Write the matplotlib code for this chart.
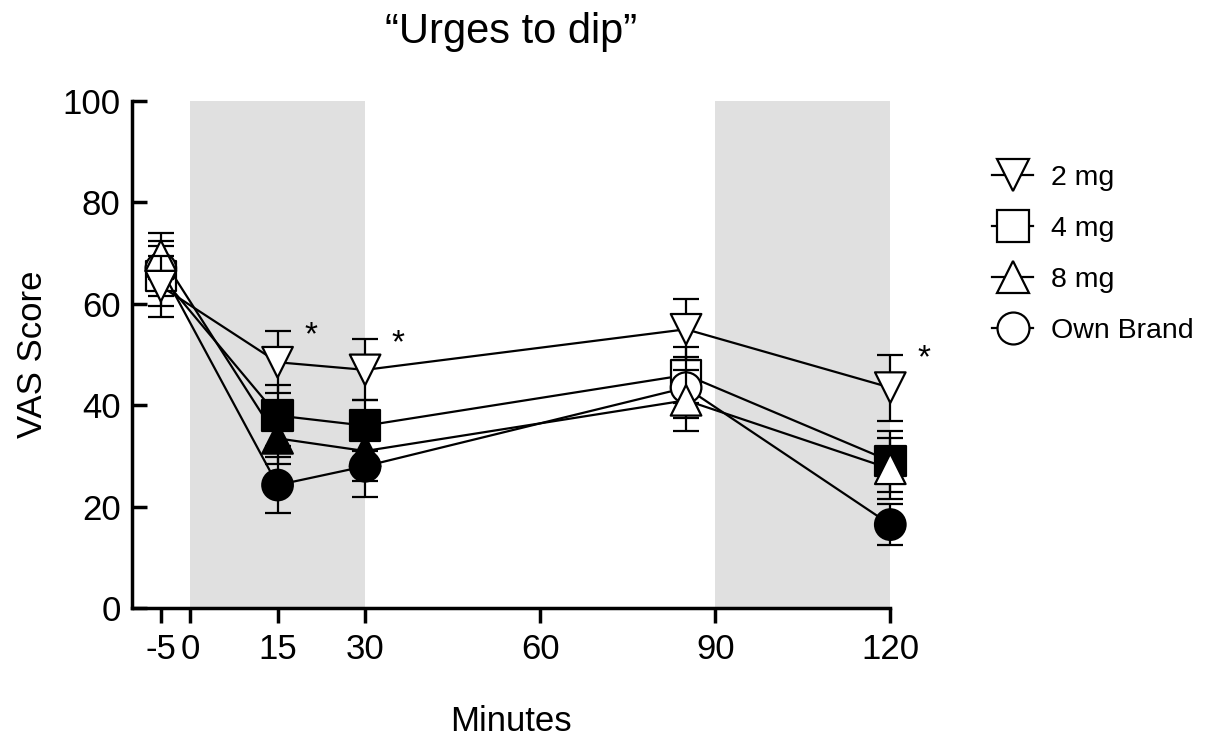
import matplotlib
matplotlib.use("Agg")
import matplotlib.pyplot as plt
from matplotlib.lines import Line2D

plt.rcParams['font.family'] = ['Liberation Sans', 'DejaVu Sans']

minutes = [-5, 15, 30, 85, 120]
tick_positions = [-5, 0, 15, 30, 60, 90, 120]
tick_labels = ['-5', '0', '15', '30', '60', '90', '120']

series_names = ['2 mg', '4 mg', '8 mg', 'Own Brand']
series_markers = ['v', 's', '^', 'o']
series_means = [
    [63.5, 48.5, 47.0, 55.0, 43.5],
    [65.5, 38.0, 36.0, 46.0, 29.0],
    [69.5, 33.5, 31.0, 41.0, 27.5],
    [67.0, 24.3, 28.0, 43.5, 16.5],
]
series_sem = [
    [6.0, 6.1, 6.0, 6.0, 6.5],
    [6.0, 6.0, 5.0, 5.5, 6.0],
    [4.5, 5.0, 6.0, 6.0, 6.0],
    [5.5, 5.5, 6.0, 6.0, 4.0],
]
# filled marker = significant vs baseline
series_filled = [
    [False, False, False, False, False],
    [False, True, True, False, True],
    [False, True, True, False, False],
    [False, True, True, False, True],
]
series_layer = [5, 2, 4, 3]
star_minutes = [15, 30, 120]
shaded_spans = [(0, 30), (90, 120)]

fig = plt.figure(figsize=(12.08, 7.4), dpi=100)
ax = fig.add_axes([0.109, 0.178, 0.628, 0.6855])

for lo, hi in shaded_spans:
    ax.axvspan(lo, hi, color='#e0e0e0', zorder=0, lw=0)

ms = 22
for i, name in enumerate(series_names):
    z = series_layer[i]
    eb = ax.errorbar(minutes, series_means[i], yerr=series_sem[i], color='black',
                     lw=1.6, elinewidth=1.6, capsize=9.5, capthick=1.6, zorder=z)
    for part in eb.lines[1] + eb.lines[2]:
        part.set_clip_on(False)
    eb.lines[0].set_clip_on(False)
    faces = ['black' if f else 'white' for f in series_filled[i]]
    ax.scatter(minutes, series_means[i], s=ms ** 2, marker=series_markers[i],
               facecolors=faces, edgecolors='black', linewidths=1.6,
               zorder=z + 0.5, clip_on=False)

# asterisks next to the 2 mg points
for m in star_minutes:
    k = minutes.index(m)
    ax.text(m + 5.7, series_means[0][k] + series_sem[0][k] - 0.8, '*',
            fontsize=24, ha='center', va='center')

ax.set_xlim(-10, 120)
ax.set_ylim(0, 100)
ax.spines['top'].set_visible(False)
ax.spines['right'].set_visible(False)
ax.spines['left'].set_linewidth(2.5)
ax.spines['bottom'].set_linewidth(2.5)
ax.set_xticks(tick_positions)
ax.set_xticklabels(tick_labels)
ax.set_yticks([0, 20, 40, 60, 80, 100])
ax.tick_params(axis='x', direction='out', length=11, width=2.5, labelsize=25, pad=7)
ax.tick_params(axis='y', direction='in', length=11, width=2.5, labelsize=25, pad=8)
ax.set_xlabel('Minutes', fontsize=25, labelpad=28)
ax.set_ylabel('VAS Score', fontsize=25, labelpad=10)
ax.set_title('\u201cUrges to dip\u201d', fontsize=30, pad=42)

handles = [Line2D([], [], color='black', lw=1.6, marker=m, markersize=23,
                  markerfacecolor='white', markeredgewidth=1.6)
           for m in series_markers]
fig.legend(handles, series_names, loc='upper left', bbox_to_anchor=(0.8, 0.812),
           frameon=False, fontsize=20.5, handlelength=1.45, labelspacing=0.88,
           handletextpad=0.62)

fig.savefig('out.png', dpi=100)
